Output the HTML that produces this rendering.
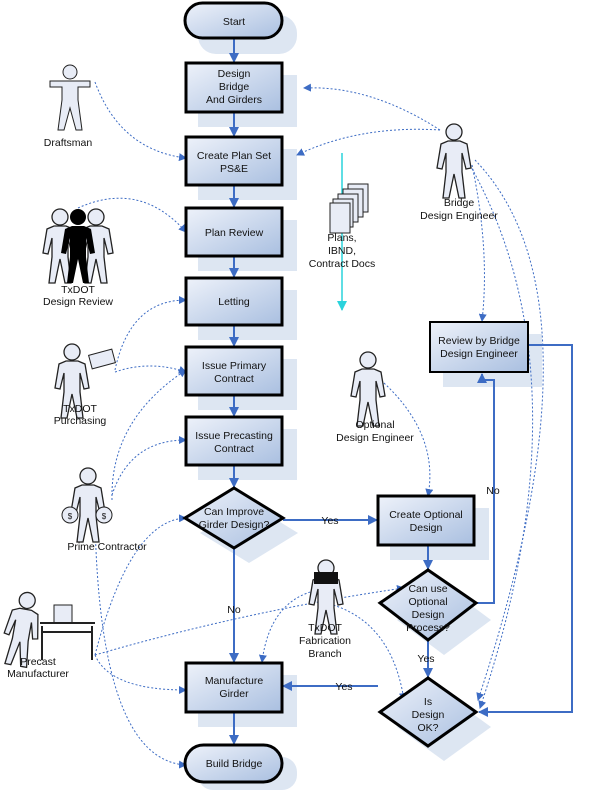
<!DOCTYPE html>
<html><head><meta charset="utf-8"><style>
html,body{margin:0;padding:0;background:#fff}
svg{display:block}
text{font-family:"Liberation Sans",sans-serif;font-size:10.5px;fill:#111;text-anchor:middle}
</style></head><body>
<svg width="589" height="796" viewBox="0 0 589 796" xmlns="http://www.w3.org/2000/svg">
<defs>
<linearGradient id="g" x1="0" y1="0" x2="1" y2="1">
<stop offset="0" stop-color="#eef2fa"/><stop offset="1" stop-color="#a9bfe0"/></linearGradient>
<marker id="a" markerWidth="10" markerHeight="10" refX="9" refY="5" orient="auto" markerUnits="userSpaceOnUse">
<path d="M0,0 L10,5 L0,10 z" fill="#3d6cc4"/></marker>
<marker id="c" markerWidth="10" markerHeight="10" refX="9" refY="5" orient="auto" markerUnits="userSpaceOnUse">
<path d="M0,0 L10,5 L0,10 z" fill="#2ad3dc"/></marker>
<marker id="d" markerWidth="8" markerHeight="8" refX="7" refY="4" orient="auto" markerUnits="userSpaceOnUse">
<path d="M0,0 L8,4 L0,8 z" fill="#3d6cc4"/></marker>
<g id="p">
<circle cx="0" cy="-30" r="8" fill="#e8ecf6" stroke="#222" stroke-width="1.3"/>
<path d="M-6,-21 L6,-21 L13,-18 L17,6 L12,7 L8,-9 L8,10 L11,36 L5,36 L0,12 L-5,36 L-11,36 L-8,10 L-8,-9 L-12,7 L-17,6 L-13,-18 Z" fill="#e8ecf6" stroke="#222" stroke-width="1.3"/>
</g>
</defs>

<g fill="#dde6f2">
<rect x="198" y="15" width="99" height="39" rx="18"/>
<rect x="198" y="75" width="99" height="52"/>
<rect x="198" y="149" width="99" height="51"/>
<rect x="198" y="220" width="99" height="51"/>
<rect x="198" y="290" width="99" height="50"/>
<rect x="198" y="359" width="99" height="51"/>
<rect x="198" y="429" width="99" height="51"/>
<polygon points="249,503 298,533 249,563 200,533"/>
<rect x="198" y="675" width="99" height="52"/>
<rect x="198" y="757" width="99" height="33" rx="15"/>
<rect x="390" y="508" width="99" height="52"/>
<polygon points="444,585 491,620 444,655 397,620"/>
<polygon points="444,693 491,727 444,761 397,727"/>
<rect x="443" y="334" width="99" height="53"/>
</g>

<g stroke="#3d6cc4" stroke-width="2" fill="none">
<line x1="234" y1="38" x2="234" y2="62" marker-end="url(#a)"/>
<line x1="234" y1="112" x2="234" y2="136" marker-end="url(#a)"/>
<line x1="234" y1="185" x2="234" y2="207" marker-end="url(#a)"/>
<line x1="234" y1="256" x2="234" y2="277" marker-end="url(#a)"/>
<line x1="234" y1="325" x2="234" y2="346" marker-end="url(#a)"/>
<line x1="234" y1="395" x2="234" y2="416" marker-end="url(#a)"/>
<line x1="234" y1="465" x2="234" y2="487" marker-end="url(#a)"/>
<line x1="234" y1="548" x2="234" y2="662" marker-end="url(#a)"/>
<line x1="234" y1="712" x2="234" y2="744" marker-end="url(#a)"/>
<line x1="283" y1="520" x2="377" y2="520" marker-end="url(#a)"/>
<line x1="428" y1="545" x2="428" y2="569" marker-end="url(#a)"/>
<line x1="428" y1="640" x2="428" y2="677" marker-end="url(#a)"/>
<polyline points="476,603 494,603 494,380 482,380 482,374" marker-end="url(#a)"/>
<polyline points="528,345 572,345 572,712 479,712" marker-end="url(#a)"/>
<line x1="378" y1="686" x2="283" y2="686" marker-end="url(#a)"/>
</g>
<line x1="342" y1="153" x2="342" y2="310" stroke="#2ad3dc" stroke-width="1.5" marker-end="url(#c)"/>

<g stroke="#3d6cc4" stroke-width="1" stroke-dasharray="2,2" fill="none" marker-end="url(#d)">
<path d="M95,82 Q120,150 186,158"/>
<path d="M440,130 Q370,85 304,88"/>
<path d="M440,130 Q360,125 297,155"/>
<path d="M472,165 Q490,250 482,321"/>
<path d="M475,160 Q610,300 478,700"/>
<path d="M470,165 Q590,380 480,708"/>
<path d="M78,208 Q140,180 186,232"/>
<path d="M115,370 Q130,300 186,300"/>
<path d="M115,372 Q150,360 186,372"/>
<path d="M112,500 Q110,420 186,370"/>
<path d="M112,495 Q130,440 186,440"/>
<path d="M95,655 Q130,520 186,518"/>
<path d="M95,655 Q250,610 404,588"/>
<path d="M95,655 Q110,690 186,690"/>
<path d="M95,520 Q100,760 186,765"/>
<path d="M375,375 Q440,430 428,496"/>
<path d="M318,590 Q270,600 262,662"/>
<path d="M310,600 Q390,610 404,700"/>
</g>

<g fill="url(#g)" stroke="#000" stroke-width="3">
<rect x="185" y="3" width="97" height="35" rx="17.5"/>
<rect x="186" y="63" width="96" height="49"/>
<rect x="186" y="137" width="96" height="48"/>
<rect x="186" y="208" width="96" height="48"/>
<rect x="186" y="278" width="96" height="47"/>
<rect x="186" y="347" width="96" height="48"/>
<rect x="186" y="417" width="96" height="48"/>
<polygon points="234,488 283,518 234,548 185,518"/>
<rect x="186" y="663" width="96" height="49"/>
<rect x="185" y="745" width="97" height="37" rx="18.5"/>
<rect x="378" y="496" width="96" height="49"/>
<polygon points="428,570 476,603 428,640 380,603"/>
<polygon points="428,678 476,712 428,746 380,712"/>
<rect x="430" y="322" width="98" height="50" stroke-width="2"/>
</g>

<g>
<circle cx="70" cy="72" r="7" fill="#e8ecf6" stroke="#222"/>
<path d="M50,81 L90,81 L90,87 L78,87 L78,100 L82,130 L76,130 L70,108 L64,130 L58,130 L62,100 L62,87 L50,87 Z" fill="#e8ecf6" stroke="#222"/>
<use href="#p" x="454" y="162"/>
<use href="#p" x="60" y="247"/>
<use href="#p" x="96" y="247" />
<g transform="translate(78,247)"><circle cx="0" cy="-30" r="8" fill="#000"/><path d="M-6,-21 L6,-21 L13,-18 L17,6 L12,7 L8,-9 L8,10 L11,36 L5,36 L0,12 L-5,36 L-11,36 L-8,10 L-8,-9 L-12,7 L-17,6 L-13,-18 Z" fill="#000"/></g>
<use href="#p" x="72" y="382"/>
<rect x="90" y="352" width="24" height="14" fill="#e8ecf6" stroke="#222" transform="rotate(-15 102 359)"/>
<use href="#p" x="88" y="506"/>
<circle cx="70" cy="515" r="8" fill="#e8ecf6" stroke="#222"/><text x="70" y="519" style="font-size:8px">$</text>
<circle cx="104" cy="515" r="8" fill="#e8ecf6" stroke="#222"/><text x="104" y="519" style="font-size:8px">$</text>
<use href="#p" x="22" y="630" transform="rotate(10 22 630)"/>
<rect x="54" y="605" width="18" height="18" fill="#e8ecf6" stroke="#222"/>
<path d="M40,623 H95 M42,626 V660 M92,626 V660 M42,632 H92" stroke="#222" stroke-width="2" fill="none"/>
<use href="#p" x="368" y="390"/>
<use href="#p" x="326" y="598"/>
<rect x="314" y="572" width="24" height="12" fill="#111"/>
<g fill="#e8ecf6" stroke="#222">
<rect x="348" y="184" width="20" height="28"/><rect x="343" y="189" width="20" height="28"/>
<rect x="338" y="194" width="20" height="28"/><rect x="333" y="199" width="20" height="28"/>
<rect x="330" y="203" width="20" height="30"/>
</g>
</g>

<text x="234" y="25">Start</text>
<text x="234" y="77">Design</text><text x="234" y="90">Bridge</text><text x="234" y="103">And Girders</text>
<text x="234" y="159">Create Plan Set</text><text x="234" y="172">PS&amp;E</text>
<text x="234" y="236">Plan Review</text>
<text x="234" y="305">Letting</text>
<text x="234" y="369">Issue Primary</text><text x="234" y="382">Contract</text>
<text x="234" y="439">Issue Precasting</text><text x="234" y="452">Contract</text>
<text x="234" y="515">Can Improve</text><text x="234" y="528">Girder Design?</text>
<text x="234" y="684">Manufacture</text><text x="234" y="697">Girder</text>
<text x="234" y="767">Build Bridge</text>
<text x="426" y="518">Create Optional</text><text x="426" y="531">Design</text>
<text x="428" y="592">Can use</text><text x="428" y="605">Optional</text><text x="428" y="618">Design</text><text x="428" y="631">Process?</text>
<text x="428" y="705">Is</text><text x="428" y="718">Design</text><text x="428" y="731">OK?</text>
<text x="479" y="344">Review by Bridge</text><text x="479" y="357">Design Engineer</text>
<text x="330" y="524">Yes</text>
<text x="234" y="613">No</text>
<text x="426" y="662">Yes</text>
<text x="344" y="690">Yes</text>
<text x="493" y="494">No</text>
<text x="68" y="146">Draftsman</text>
<text x="78" y="293">TxDOT</text><text x="78" y="305">Design Review</text>
<text x="80" y="412">TxDOT</text><text x="80" y="424">Purchasing</text>
<text x="107" y="550">Prime Contractor</text>
<text x="38" y="665">Precast</text><text x="38" y="677">Manufacturer</text>
<text x="459" y="206">Bridge</text><text x="459" y="219">Design Engineer</text>
<text x="375" y="428">Optional</text><text x="375" y="441">Design Engineer</text>
<text x="325" y="631">TxDOT</text><text x="325" y="644">Fabrication</text><text x="325" y="657">Branch</text>
<text x="342" y="241">Plans,</text><text x="342" y="254">IBND,</text><text x="342" y="267">Contract Docs</text>
</svg>
</body></html>
